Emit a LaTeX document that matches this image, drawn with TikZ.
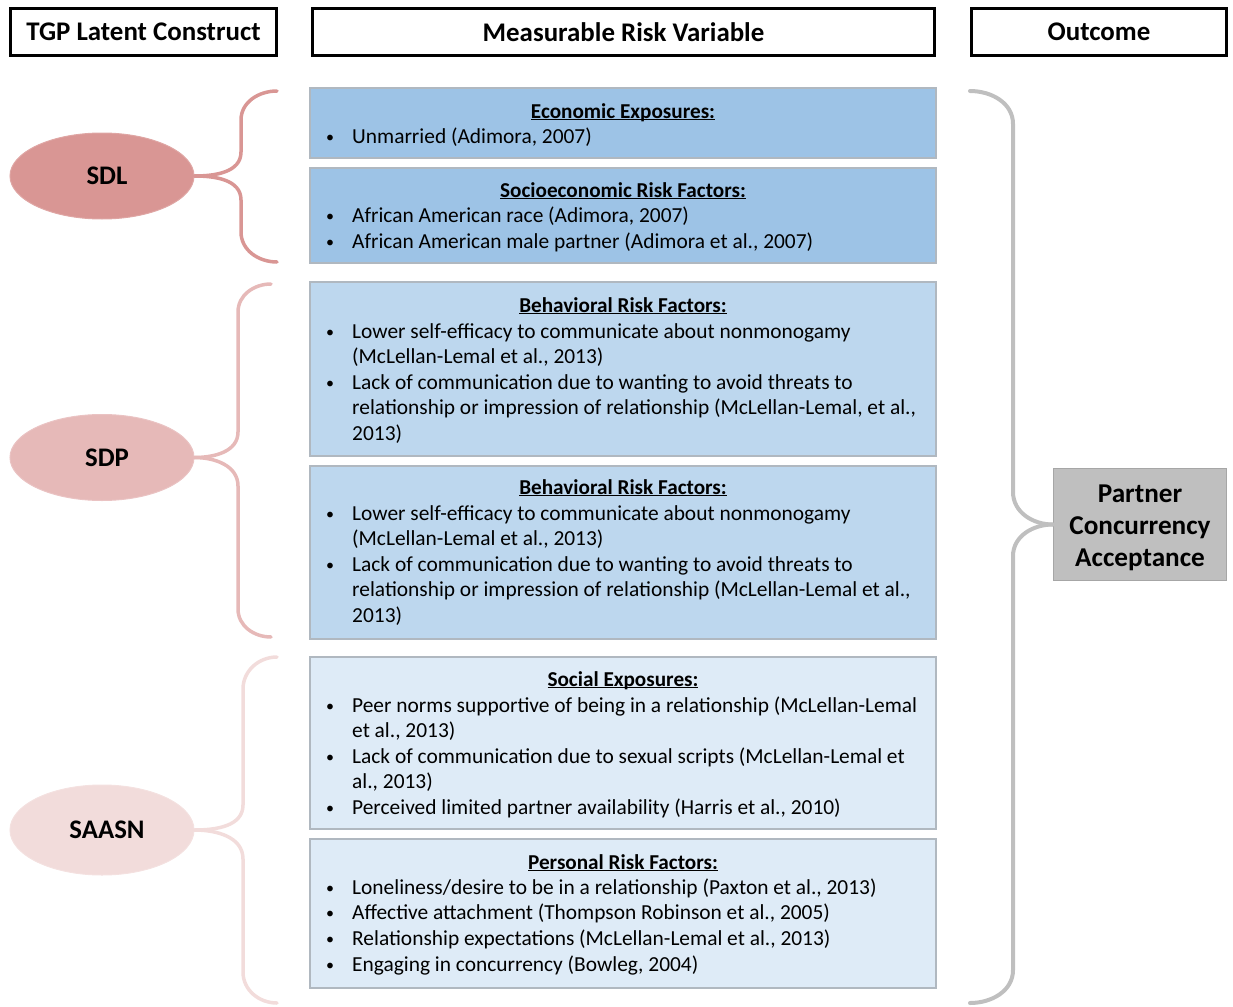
\documentclass[tikz,border=0pt]{standalone}
\usepackage{fontspec}
\setmainfont{Carlito}
\usetikzlibrary{shapes.geometric}
\definecolor{blueA}{HTML}{9DC3E6}
\definecolor{blueB}{HTML}{BDD7EE}
\definecolor{blueC}{HTML}{DEEBF7}
\definecolor{boxline}{HTML}{B0B8C0}
\definecolor{sdlc}{HTML}{D99694}
\definecolor{sdpc}{HTML}{E6B9B8}
\definecolor{saasnc}{HTML}{F2DCDB}
\definecolor{graybr}{HTML}{BFBFBF}
\definecolor{grayln}{HTML}{A6A6A6}
\newcommand\myul[1]{\setbox0\hbox{#1}\rlap{\rule[-2.4pt]{\wd0}{1.3pt}}\box0}
\newcounter{lnc}
\newcommand\bul[2]{\stepcounter{lnc}%
  \node[bodytxt,anchor=base,font=\fontsize{16}{20}\selectfont] (bu\thelnc) at (330,#1-1) {\textbullet};%
  \node[bodytxt,anchor=base west] (ln\thelnc) at (352,#1) {#2};}
\newcommand\cont[2]{\stepcounter{lnc}%
  \node[bodytxt,anchor=base west] (ln\thelnc) at (352,#1) {#2};}
\newcommand\ttl[2]{\stepcounter{lnc}%
  \node[titletxt,anchor=base] (tt\thelnc) at (623,#1) {\myul{#2}};}
\begin{document}
\begin{tikzpicture}[x=1pt,y=-1pt,
  hdr/.style={draw=black,line width=3.3pt,fill=white,inner sep=0pt,
    font=\fontsize{26.9}{32}\selectfont\bfseries},
  bluebox/.style={draw=boxline,line width=1.2pt,inner sep=0pt,minimum width=626pt},
  bodytxt/.style={inner sep=0pt,font=\fontsize{21.4}{25}\selectfont},
  titletxt/.style={inner sep=0pt,font=\fontsize{21.2}{25}\selectfont\bfseries},
  ell/.style={ellipse,inner sep=0pt,minimum width=184pt,minimum height=86pt,
    line width=1pt,font=\fontsize{26.8}{31}\selectfont\bfseries},
  brc/.style={line width=3.5pt,line cap=round},
  outbox/.style={draw=grayln,fill=graybr,line width=1.5pt,inner sep=0pt,
    minimum width=173pt,minimum height=112pt},
  outtxt/.style={inner sep=0pt,align=center,
    font=\fontsize{27.2}{32}\selectfont\bfseries}]
\useasboundingbox (0,0) rectangle (1233,1006);
% headers
\node[hdr,minimum width=266pt,minimum height=47pt] (h1) at (143.5,32) {TGP Latent Construct};
\node[hdr,minimum width=622pt,minimum height=47pt] (h2) at (623.5,32) {Measurable Risk Variable};
\node[hdr,minimum width=255pt,minimum height=47pt] (h3) at (1099,32) {Outcome};
% blue boxes
\node[bluebox,fill=blueA,minimum height=70pt] (b1) at (623,123) {};
\node[bluebox,fill=blueA,minimum height=95pt] (b2) at (623,215.5) {};
\node[bluebox,fill=blueB,minimum height=174pt] (b3) at (623,369) {};
\node[bluebox,fill=blueB,minimum height=173pt] (b4) at (623,552.5) {};
\node[bluebox,fill=blueC,minimum height=172pt] (b5) at (623,743) {};
\node[bluebox,fill=blueC,minimum height=149pt] (b6) at (623,913.5) {};
% box texts
\ttl{118}{Economic Exposures:}
\bul{143.5}{Unmarried (Adimora, 2007)}
\ttl{197}{Socioeconomic Risk Factors:}
\bul{222.5}{African American race (Adimora, 2007)}
\bul{248.5}{African American male partner (Adimora et al., 2007)}
\ttl{312}{Behavioral Risk Factors:}
\bul{338.5}{Lower self-efficacy to communicate about nonmonogamy}
\cont{363.5}{(McLellan-Lemal et al., 2013)}
\bul{389.5}{Lack of communication due to wanting to avoid threats to}
\cont{414.5}{relationship or impression of relationship (McLellan-Lemal, et al.,}
\cont{440.5}{2013)}
\ttl{494}{Behavioral Risk Factors:}
\bul{520.5}{Lower self-efficacy to communicate about nonmonogamy}
\cont{545.5}{(McLellan-Lemal et al., 2013)}
\bul{571.5}{Lack of communication due to wanting to avoid threats to}
\cont{596.5}{relationship or impression of relationship (McLellan-Lemal et al.,}
\cont{622.5}{2013)}
\ttl{686}{Social Exposures:}
\bul{712.5}{Peer norms supportive of being in a relationship (McLellan-Lemal}
\cont{737.5}{et al., 2013)}
\bul{763.5}{Lack of communication due to sexual scripts (McLellan-Lemal et}
\cont{788.5}{al., 2013)}
\bul{814.5}{Perceived limited partner availability (Harris et al., 2010)}
\ttl{869}{Personal Risk Factors:}
\bul{894.5}{Loneliness/desire to be in a relationship (Paxton et al., 2013)}
\bul{919.5}{Affective attachment (Thompson Robinson et al., 2005)}
\bul{945.5}{Relationship expectations (McLellan-Lemal et al., 2013)}
\bul{971.5}{Engaging in concurrency (Bowleg, 2004)}
% ellipses
\node[ell,fill=sdlc,draw=sdlc!85!white] (sdl) at (102,176) {\hspace*{10pt}\raisebox{-2.5pt}{SDL}};
\node[ell,fill=sdpc,draw=sdpc!85!white] (sdp) at (102,457.5) {\hspace*{10pt}\raisebox{-2.5pt}{SDP}};
\node[ell,fill=saasnc,draw=saasnc!85!white,minimum height=90pt] (saasn) at (102,830) {\hspace*{10pt}\raisebox{-2.5pt}{SAASN}};
% outcome
\node[outbox] (out) at (1140,524.5) {};
\node[outtxt] (outt) at (1140,527.5) {Partner\\Concurrency\\Acceptance};
% braces
\coordinate (sdlT) at (277,91); \coordinate (sdlB) at (277,262);
\draw[brc,sdlc] (sdl.east) to[out=0,in=-90] (241,152) -- (241,120) to[out=90,in=180] (sdlT);
\draw[brc,sdlc] (sdl.east) to[out=0,in=90] (241,200) -- (241,232) to[out=-90,in=180] (sdlB);
\coordinate (sdpT) at (271,284); \coordinate (sdpB) at (271,637);
\draw[brc,sdpc] (sdp.east) to[out=0,in=-90] (238,432) -- (238,312) to[out=90,in=180] (sdpT);
\draw[brc,sdpc] (sdp.east) to[out=0,in=90] (238,486) -- (238,609) to[out=-90,in=180] (sdpB);
\coordinate (saT) at (277,657); \coordinate (saB) at (277,1003);
\draw[brc,saasnc] (saasn.east) to[out=0,in=-90] (243,805) -- (243,689) to[out=90,in=180] (saT);
\draw[brc,saasnc] (saasn.east) to[out=0,in=90] (243,859) -- (243,972) to[out=-90,in=180] (saB);
\coordinate (rT) at (970,91); \coordinate (rB) at (970,1003);
\draw[brc,graybr,line width=4pt] (out.west) to[out=180,in=-90] (1013,492) -- (1013,124) to[out=90,in=0] (rT);
\draw[brc,graybr,line width=4pt] (out.west) to[out=180,in=90] (1013,556) -- (1013,970) to[out=-90,in=0] (rB);
\end{tikzpicture}
\end{document}
